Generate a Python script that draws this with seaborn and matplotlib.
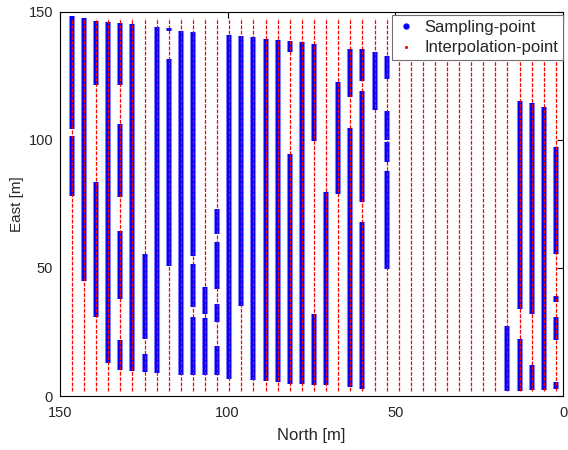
import numpy as np
import pandas as pd
import matplotlib
matplotlib.use("Agg")
import matplotlib.pyplot as plt
from matplotlib.lines import Line2D
import seaborn as sns

# North position (m) of each survey transect
transect_north = [146.4, 142.8, 139.2, 135.6, 132.0, 128.4, 124.8, 121.2, 117.5, 113.9,
                  110.3, 106.7, 103.1, 99.5, 95.9, 92.3, 88.7, 85.1, 81.5, 77.9,
                  74.3, 70.7, 67.0, 63.4, 59.8, 56.2, 52.6, 49.0, 45.4, 41.8,
                  38.2, 34.6, 31.0, 27.4, 23.8, 20.2, 16.6, 12.9, 9.3, 5.7, 2.1]

# East extent (m) of the interpolation grid along every transect
interp_east = [1.8, 147.6]

# Runs of measured samples: transect index, east start, east end
run_transect = [0, 0, 1, 2, 2, 3, 4, 4, 4, 4, 5, 6, 6, 7, 8, 8, 9,
                10, 10, 10, 11, 11, 12, 12, 12, 12, 13, 14, 15, 16, 17,
                18, 18, 19, 20, 20, 21, 22, 23, 23, 24, 24, 24, 25,
                26, 26, 26, 26, 36, 37, 37, 38, 38, 39, 40, 40, 40, 40]
run_east_top = [148.2, 101.6, 147.3, 146.4, 83.4, 146.0, 145.5, 106.1, 64.5, 21.7,
                145.1, 55.5, 16.5, 143.8, 143.6, 131.4, 142.5,
                142.1, 51.6, 30.8, 42.5, 30.5, 73.0, 60.0, 36.0, 19.7,
                140.8, 140.3, 139.9, 139.2, 139.0,
                138.3, 94.4, 138.0, 137.3, 32.1, 79.5, 122.4, 135.3, 104.4,
                135.3, 119.1, 67.8, 134.1,
                132.5, 111.3, 99.0, 87.9, 27.5, 115.2, 22.3, 114.2, 11.9, 112.6,
                97.3, 39.2, 30.8, 5.5]
run_east_bottom = [104.2, 77.9, 45.0, 121.3, 30.8, 13.0, 121.3, 77.6, 37.9, 10.0,
                   9.6, 22.3, 9.4, 9.1, 142.4, 50.9, 8.0,
                   54.8, 34.8, 8.0, 32.1, 8.0, 63.2, 41.8, 28.8, 8.0,
                   6.8, 35.3, 6.1, 5.7, 5.5,
                   134.1, 4.8, 4.5, 99.6, 4.4, 4.1, 78.8, 116.5, 3.5,
                   123.0, 75.6, 2.8, 111.7,
                   123.7, 100.0, 91.4, 49.6, 1.8, 34.0, 1.8, 32.1, 2.2, 2.2,
                   55.5, 36.6, 21.7, 2.6]

x_ticks = [150, 100, 50, 0]
y_ticks = [0, 50, 100, 150]

# Long-form tables: two endpoints per run / per interpolation transect
runs = pd.DataFrame({
    "run": np.repeat(np.arange(len(run_transect)), 2),
    "north": np.repeat([transect_north[i] for i in run_transect], 2),
    "east": np.ravel(np.column_stack([run_east_top, run_east_bottom])),
})
grid = pd.DataFrame({
    "line": np.repeat(np.arange(len(transect_north)), 2),
    "north": np.repeat(transect_north, 2),
    "east": np.tile(interp_east, len(transect_north)),
})

sns.set_theme(style="white")
plt.rcParams["font.family"] = ["Liberation Sans", "DejaVu Sans"]

fig = plt.figure(figsize=(5.68, 4.5), dpi=100)
ax = fig.add_axes([60 / 568, 1 - 396 / 450, 503 / 568, (396 - 11.5) / 450])

# measured samples: soft halo plus solid core
sns.lineplot(data=runs, x="north", y="east", units="run", estimator=None, sort=False,
             color="#8c8cff", linewidth=4.4, solid_capstyle="butt", ax=ax, legend=False)
sns.lineplot(data=runs, x="north", y="east", units="run", estimator=None, sort=False,
             color="#0000ff", linewidth=3.0, solid_capstyle="butt", ax=ax, legend=False)
# interpolation grid
sns.lineplot(data=grid, x="north", y="east", units="line", estimator=None, sort=False,
             color="#ff0000", linewidth=0.9, linestyle=(0, (3, 1.2)), ax=ax, legend=False)

ax.set_xlim(150, 0)
ax.set_ylim(0, 150)
ax.set_xticks(x_ticks)
ax.set_yticks(y_ticks)
ax.tick_params(direction="in", top=True, right=True, length=4, width=0.8,
               color="black", labelsize=10.5, labelcolor="#262626")
ax.tick_params(axis="x", pad=7)
ax.tick_params(axis="y", pad=5)
for s in ax.spines.values():
    s.set_color("black")
    s.set_linewidth(0.8)

ax.set_xlabel("North [m]", fontsize=12, color="#262626", labelpad=6)
ax.set_ylabel("East [m]", fontsize=11, color="#262626", labelpad=3)

handles = [
    Line2D([], [], linestyle="none", marker=".", color="#0000ff", markersize=7),
    Line2D([], [], linestyle="none", marker=".", color="#ff0000", markersize=2.5),
]
leg = ax.legend(handles, ["Sampling-point", "Interpolation-point"], loc="upper right",
                bbox_to_anchor=(1.0, 0.992), borderaxespad=0, fontsize=12,
                frameon=True, fancybox=False, edgecolor="#707070", framealpha=1,
                handlelength=1.0, handletextpad=0.6, borderpad=0.3, labelspacing=0.35)
leg.get_frame().set_linewidth(0.8)

fig.savefig("out.png", dpi=100)
